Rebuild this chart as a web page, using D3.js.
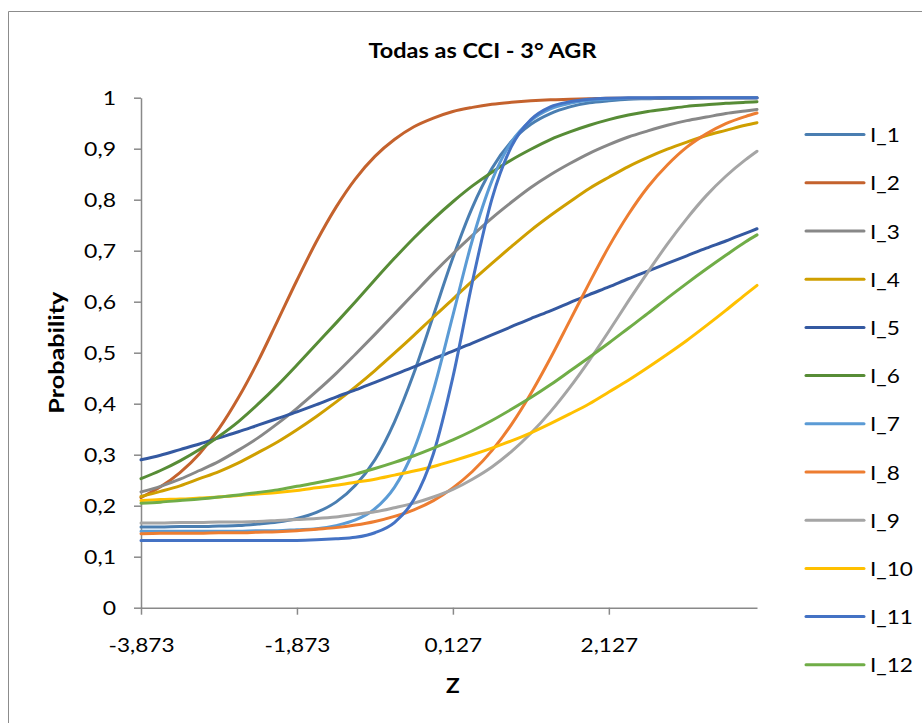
<!DOCTYPE html>
<html>
<head>
<meta charset="utf-8">
<script src="https://cdnjs.cloudflare.com/ajax/libs/d3/7.8.5/d3.min.js"></script>
<style>
  body { margin: 0; background: #fff; }
  text { font-family: Lato, "Open Sans", sans-serif; fill: #000; }
</style>
</head>
<body>
<div id="wrapper"></div>
<script>
// Data
const zValues = [-3.873,-3.623,-3.373,-3.123,-2.873,-2.623,-2.373,-2.123,-1.873,-1.623,-1.373,-1.123,-0.873,-0.623,-0.373,-0.123,0.127,0.377,0.627,0.877,1.127,1.377,1.627,1.877,2.127,2.377,2.627,2.877,3.127,3.377,3.627,3.877,4.027]

const i1 = [0.158,0.158,0.159,0.159,0.160,0.161,0.164,0.168,0.175,0.187,0.207,0.240,0.290,0.364,0.460,0.573,0.686,0.785,0.861,0.914,0.948,0.969,0.982,0.990,0.994,0.997,0.998,0.999,0.999,1.000,1.000,1.000,1.000]
const i2 = [0.216,0.237,0.265,0.302,0.351,0.412,0.483,0.562,0.642,0.718,0.785,0.841,0.885,0.918,0.943,0.960,0.973,0.981,0.987,0.991,0.994,0.996,0.997,0.998,0.999,0.999,0.999,1.000,1.000,1.000,1.000,1.000,1.000]
const i3 = [0.227,0.238,0.252,0.269,0.287,0.309,0.333,0.361,0.391,0.424,0.459,0.497,0.536,0.576,0.616,0.656,0.694,0.730,0.764,0.795,0.824,0.849,0.871,0.891,0.908,0.923,0.935,0.946,0.955,0.962,0.969,0.974,0.977]
const i4 = [0.218,0.228,0.239,0.253,0.267,0.284,0.304,0.325,0.349,0.375,0.403,0.433,0.465,0.499,0.534,0.570,0.605,0.641,0.675,0.708,0.740,0.769,0.796,0.822,0.844,0.865,0.883,0.899,0.913,0.926,0.936,0.946,0.951]
const i5 = [0.290,0.299,0.310,0.321,0.333,0.345,0.358,0.371,0.384,0.398,0.413,0.427,0.442,0.457,0.472,0.488,0.503,0.519,0.535,0.551,0.567,0.582,0.598,0.614,0.629,0.645,0.660,0.675,0.690,0.705,0.719,0.734,0.743]
const i6 = [0.253,0.269,0.288,0.310,0.336,0.365,0.399,0.436,0.476,0.517,0.558,0.600,0.643,0.685,0.725,0.762,0.796,0.827,0.854,0.878,0.899,0.918,0.933,0.946,0.957,0.966,0.973,0.978,0.983,0.986,0.989,0.991,0.992]
const i7 = [0.150,0.150,0.150,0.150,0.150,0.150,0.151,0.151,0.153,0.155,0.161,0.172,0.194,0.236,0.310,0.426,0.573,0.721,0.837,0.913,0.955,0.978,0.989,0.995,0.997,0.999,0.999,1.000,1.000,1.000,1.000,1.000,1.000]
const i8 = [0.145,0.146,0.146,0.146,0.147,0.147,0.148,0.149,0.151,0.154,0.157,0.162,0.169,0.179,0.192,0.210,0.235,0.267,0.308,0.359,0.420,0.489,0.563,0.637,0.708,0.771,0.825,0.868,0.903,0.929,0.949,0.963,0.970]
const i9 = [0.166,0.166,0.167,0.167,0.168,0.168,0.169,0.171,0.173,0.175,0.178,0.183,0.188,0.196,0.205,0.217,0.232,0.252,0.276,0.306,0.342,0.384,0.432,0.485,0.542,0.601,0.658,0.713,0.763,0.808,0.846,0.878,0.895]
const i10 = [0.210,0.212,0.213,0.215,0.217,0.220,0.223,0.226,0.230,0.235,0.240,0.246,0.252,0.260,0.268,0.277,0.288,0.300,0.313,0.327,0.343,0.361,0.380,0.400,0.423,0.446,0.471,0.497,0.524,0.553,0.583,0.614,0.632]
const i11 = [0.132,0.132,0.132,0.132,0.132,0.132,0.132,0.132,0.132,0.133,0.135,0.138,0.147,0.167,0.212,0.302,0.452,0.639,0.801,0.904,0.957,0.982,0.992,0.997,0.999,1.000,1.000,1.000,1.000,1.000,1.000,1.000,1.000]
const i12 = [0.205,0.207,0.210,0.213,0.217,0.221,0.226,0.231,0.238,0.245,0.253,0.262,0.273,0.285,0.298,0.313,0.329,0.347,0.367,0.389,0.412,0.437,0.464,0.491,0.519,0.548,0.577,0.607,0.636,0.664,0.691,0.717,0.731]

const seriesNames = ["I_1","I_2","I_3","I_4","I_5","I_6","I_7","I_8","I_9","I_10","I_11","I_12"]
const seriesValues = [i1,i2,i3,i4,i5,i6,i7,i8,i9,i10,i11,i12]
const seriesColors = ["#4A7EB1","#C4622D","#888888","#CF9F00","#3459A1","#578C36",
                      "#5B9BD5","#ED7D31","#A5A5A5","#FFC000","#4472C4","#70AD47"]

const xTickValues = [-3.873, -1.873, 0.127, 2.127]
const yTickValues = [0, 0.1, 0.2, 0.3, 0.4, 0.5, 0.6, 0.7, 0.8, 0.9, 1]

const titleText = "Todas as CCI - 3° AGR"
const xLabel = "Z"
const yLabel = "Probability"

function drawChart() {

  let dimensions = {
    width: 922,
    height: 723,
    margin: { top: 97.7, right: 165, bottom: 115.3, left: 141 },
  }
  dimensions.boundedWidth = dimensions.width - dimensions.margin.left - dimensions.margin.right
  dimensions.boundedHeight = dimensions.height - dimensions.margin.top - dimensions.margin.bottom

  const wrapper = d3.select("#wrapper")
    .append("svg")
    .attr("width", dimensions.width)
    .attr("height", dimensions.height)

  // chart area border (only top and left edges are inside the picture)
  wrapper.append("path")
    .attr("d", `M8.5,${dimensions.height} V11.5 H${dimensions.width}`)
    .attr("fill", "none")
    .attr("stroke", "#8c8c8c")
    .attr("stroke-width", 1)

  const bounds = wrapper.append("g")
    .attr("transform", `translate(${dimensions.margin.left},${dimensions.margin.top})`)

  const locale = d3.formatLocale({ decimal: ",", thousands: ".", grouping: [3], currency: ["", ""], minus: "-" })
  const xFormat = locale.format(".3f")
  const yFormat = locale.format("~g")

  const xScale = d3.scaleLinear()
    .domain([zValues[0], zValues[zValues.length - 1]])
    .range([0, dimensions.boundedWidth])

  const yScale = d3.scaleLinear()
    .domain([0, 1])
    .range([dimensions.boundedHeight, 0])

  const stretch = (sel, factor) => sel.each(function () {
    const len = this.getComputedTextLength()
    d3.select(this).attr("textLength", len * factor).attr("lengthAdjust", "spacingAndGlyphs")
  })

  // Axes
  const yAxis = bounds.append("g")
    .call(d3.axisLeft(yScale).tickValues(yTickValues).tickFormat(yFormat).tickSize(7).tickSizeOuter(0))
  yAxis.attr("font-size", null).attr("font-family", null)
  yAxis.selectAll("text")
    .attr("x", -25)
    .attr("dy", "0.36em")
    .style("font-size", "20px")
    .call(stretch, 1.15)

  const xAxis = bounds.append("g")
    .attr("transform", `translate(0,${dimensions.boundedHeight})`)
    .call(d3.axisBottom(xScale).tickValues(xTickValues).tickFormat(xFormat).tickSize(7).tickSizeOuter(0))
  xAxis.attr("font-size", null).attr("font-family", null)
  xAxis.selectAll("text")
    .attr("y", 44)
    .attr("dy", 0)
    .style("font-size", "20px")
    .call(stretch, 1.13)

  bounds.selectAll(".domain, .tick line")
    .attr("stroke", "#898989")
    .attr("stroke-width", 1.5)

  // Lines
  const lineGenerator = d3.line()
    .x((d, i) => xScale(zValues[i]))
    .y(d => yScale(d))
    .curve(d3.curveMonotoneX)

  bounds.selectAll(".series")
    .data(seriesValues)
    .enter().append("path")
    .attr("class", "series")
    .attr("d", lineGenerator)
    .attr("fill", "none")
    .attr("stroke", (d, i) => seriesColors[i])
    .attr("stroke-width", 3)
    .attr("stroke-linecap", "round")
    .attr("stroke-linejoin", "round")

  // Title
  wrapper.append("text")
    .attr("x", 482.5)
    .attr("y", 58)
    .attr("text-anchor", "middle")
    .style("font-size", "21px")
    .style("font-weight", "bold")
    .text(titleText)
    .attr("textLength", 228)
    .attr("lengthAdjust", "spacingAndGlyphs")

  // Axis labels
  wrapper.append("text")
    .attr("x", dimensions.margin.left + xScale(0.127))
    .attr("y", 693)
    .attr("text-anchor", "middle")
    .style("font-size", "20px")
    .style("font-weight", "bold")
    .text(xLabel)
    .call(stretch, 1.13)

  wrapper.append("text")
    .attr("transform", `translate(64,${dimensions.margin.top + yScale(0.5)}) rotate(-90)`)
    .attr("text-anchor", "middle")
    .style("font-size", "20px")
    .style("font-weight", "bold")
    .text(yLabel)
    .attr("textLength", 122)
    .attr("lengthAdjust", "spacingAndGlyphs")

  // Legend
  const legend = wrapper.append("g")
    .attr("transform", "translate(806,134.6)")

  const legendItems = legend.selectAll("g")
    .data(seriesNames)
    .enter().append("g")
    .attr("transform", (d, i) => `translate(0,${i * 48.2})`)

  legendItems.append("line")
    .attr("x1", 0)
    .attr("x2", 58)
    .attr("stroke", (d, i) => seriesColors[i])
    .attr("stroke-width", 3)
    .attr("stroke-linecap", "round")

  legendItems.append("text")
    .attr("x", 64)
    .attr("y", 7.5)
    .style("font-size", "20px")
    .text(d => d)
    .call(stretch, 1.13)
}
drawChart()
</script>
</body>
</html>
